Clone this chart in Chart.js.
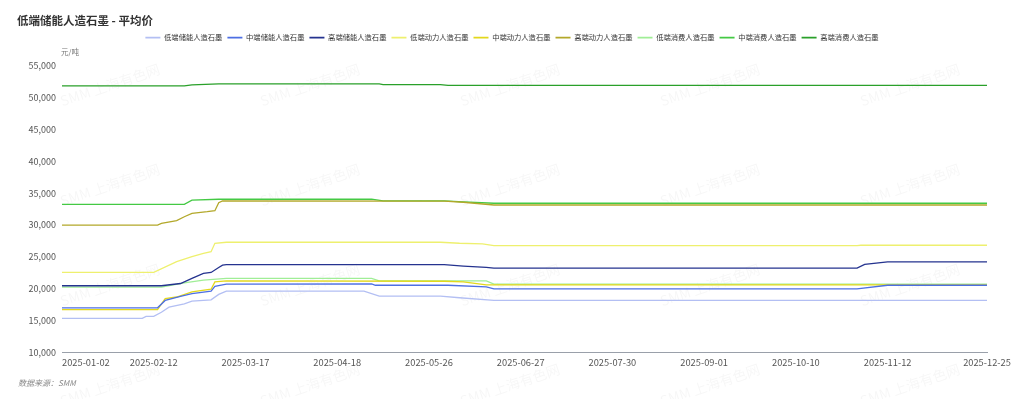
<!DOCTYPE html>
<html>
<head>
<meta charset="utf-8">
<script src="https://cdn.jsdelivr.net/npm/chart.js@4.4.0/dist/chart.umd.min.js"></script>
<style>
    body { margin: 0; background: #fff; font-family: "Noto Sans CJK SC", sans-serif; }
    #wrap { position: relative; width: 1024px; height: 399px; }
    #title { position: absolute; left: 17px; top: 12px; font-size: 11.5px; font-weight: bold; color: #333; }
    #unit { position: absolute; left: 61px; top: 46px; font-size: 7.5px; color: #777; }
    #source { position: absolute; left: 18px; top: 377px; font-size: 8px; font-style: italic; color: #888; }
</style>
</head>
<body>
<div id="wrap">
    <canvas id="priceChart" width="1024" height="399"></canvas>
    <div id="title">低端储能人造石墨 - 平均价</div>
    <div id="unit">元/吨</div>
    <div id="source">数据来源：SMM</div>
</div>
<script>
// x = trading day index (0 = 2025-01-02, 242 = 2025-12-25)
const tickDays = [0, 24, 48, 72, 96, 120, 144, 168, 192, 216, 242];
const tickLabels = ['2025-01-02', '2025-02-12', '2025-03-17', '2025-04-18', '2025-05-26', '2025-06-27',
    '2025-07-30', '2025-09-01', '2025-10-10', '2025-11-12', '2025-12-25'];

const seriesNames = ['低端储能人造石墨', '中端储能人造石墨', '高端储能人造石墨', '低端动力人造石墨', '中端动力人造石墨',
    '高端动力人造石墨', '低端消费人造石墨', '中端消费人造石墨', '高端消费人造石墨'];
const seriesColors = ['#b3bff3', '#4d6fe3', '#25338f', '#eef06e', '#e3d81c', '#b3a82a', '#a0ee96', '#44c944', '#2aa02a'];

// [day, price]
const lowStorage = [[0, 15400], [21, 15400], [22, 15700], [24, 15700], [26, 16350], [28, 17150], [32, 17650], [34, 18080],
    [39, 18300], [41, 19140], [43, 19650], [79, 19650], [83, 18870], [99, 18870], [104, 18620], [113, 18200], [242, 18200]];
const midStorage = [[0, 17050], [25, 17050], [27, 18200], [31, 18850], [34, 19280], [39, 19640], [40, 20420], [43, 20750],
    [81, 20800], [82, 20580], [101, 20580], [111, 20310], [113, 20000], [208, 20000], [216, 20580], [242, 20580]];
const highStorage = [[0, 20500], [26, 20500], [31, 20850], [34, 21640], [37, 22420], [39, 22580], [41, 23360], [42, 23730],
    [43, 23800], [100, 23800], [105, 23570], [111, 23360], [113, 23250], [208, 23250], [210, 23840], [216, 24250], [242, 24250]];
const lowPower = [[0, 22600], [24, 22600], [30, 24260], [34, 25050], [37, 25580], [39, 25830], [40, 27150], [43, 27310],
    [99, 27310], [104, 27150], [110, 27040], [113, 26780], [208, 26780], [209, 26840], [242, 26840]];
const midPower = [[0, 16760], [25, 16760], [27, 18490], [30, 18740], [34, 19530], [39, 19950], [40, 21100], [43, 21260],
    [100, 21200], [105, 21100], [111, 20650], [113, 20630], [242, 20650]];
const highPower = [[0, 30000], [25, 30000], [26, 30270], [30, 30680], [32, 31300], [34, 31840], [38, 32090], [40, 32250],
    [41, 33500], [42, 33770], [100, 33730], [105, 33570], [113, 33140], [242, 33140]];
const lowConsumer = [[0, 20270], [26, 20270], [32, 20940], [37, 21370], [43, 21640], [81, 21640], [83, 21260], [111, 21260],
    [113, 20740], [242, 20740]];
const midConsumer = [[0, 33250], [32, 33250], [34, 33900], [41, 34040], [81, 34040], [84, 33770], [100, 33770], [105, 33620],
    [113, 33410], [242, 33410]];
const highConsumer = [[0, 51780], [32, 51780], [34, 51930], [41, 52090], [83, 52090], [84, 51990], [99, 51990], [101, 51850],
    [242, 51850]];

const allSeries = [lowStorage, midStorage, highStorage, lowPower, midPower, highPower, lowConsumer, midConsumer, highConsumer];

// extra room under the legend
const legendGap = {
    id: 'legendGap',
    beforeInit(chart) {
        const fit = chart.legend.fit;
        chart.legend.fit = function () {
            fit.call(this);
            this.height += 14;
        };
    }
};

// faint SMM watermark
const watermark = {
    id: 'watermark',
    beforeDatasetsDraw(chart) {
        const ctx = chart.ctx;
        ctx.save();
        ctx.fillStyle = 'rgba(0,0,0,0.035)';
        ctx.font = '14px "Noto Sans CJK SC"';
        ctx.textAlign = 'center';
        ctx.textBaseline = 'middle';
        for (let y = 85; y < 400; y += 100) {
            for (let x = 110; x < 1024; x += 200) {
                ctx.save();
                ctx.translate(x, y);
                ctx.rotate(-0.32);
                ctx.fillText('SMM 上海有色网', 0, 0);
                ctx.restore();
            }
        }
        ctx.restore();
    }
};

const ctx = document.getElementById('priceChart').getContext('2d');
new Chart(ctx, {
    type: 'line',
    data: {
        datasets: allSeries.map((s, i) => ({
            label: seriesNames[i],
            data: s.map(p => ({ x: p[0], y: p[1] })),
            borderColor: seriesColors[i],
            backgroundColor: seriesColors[i],
            borderWidth: 1.3,
            pointRadius: 0,
            pointStyle: 'line',
            tension: 0
        }))
    },
    options: {
        responsive: false,
        animation: false,
        layout: {
            padding: { top: 29, left: 0, right: 0, bottom: 27 }
        },
        plugins: {
            legend: {
                position: 'top',
                labels: {
                    color: '#333',
                    font: { family: '"Noto Sans CJK SC"', size: 7.3 },
                    usePointStyle: true,
                    pointStyleWidth: 15,
                    padding: 5,
                    generateLabels: function (chart) {
                        const items = Chart.defaults.plugins.legend.labels.generateLabels(chart);
                        items.forEach(it => { it.lineWidth = 1.8; });
                        return items;
                    }
                }
            },
            tooltip: { enabled: false }
        },
        scales: {
            x: {
                type: 'linear',
                min: 0,
                max: 242,
                grid: { display: false, drawTicks: false },
                border: { display: true, color: '#9aa0aa', width: 1 },
                afterBuildTicks: function (scale) {
                    // the trailing empty tick keeps the last real label centred
                    scale.ticks = tickDays.concat([242]).map(v => ({ value: v }));
                },
                ticks: {
                    align: 'inner',
                    autoSkip: false,
                    maxRotation: 0,
                    padding: 4,
                    color: '#555',
                    font: { family: '"Noto Sans CJK SC"', size: 9.3 },
                    callback: function (value, index) {
                        return tickLabels[index] || '';
                    }
                }
            },
            y: {
                min: 10000,
                max: 55000,
                grid: { display: false, drawTicks: false },
                border: { display: false },
                afterFit: function (scale) { scale.width = 62; },
                ticks: {
                    stepSize: 5000,
                    padding: 6,
                    color: '#555',
                    font: { family: '"Noto Sans CJK SC"', size: 9 },
                    callback: function (value) {
                        return value.toLocaleString('en-US');
                    }
                }
            },
            yRight: {
                position: 'right',
                display: true,
                grid: { display: false, drawTicks: false },
                border: { display: false },
                ticks: { display: false },
                afterFit: function (scale) { scale.width = 37; }
            }
        }
    },
    plugins: [legendGap, watermark]
});
</script>
</body>
</html>
